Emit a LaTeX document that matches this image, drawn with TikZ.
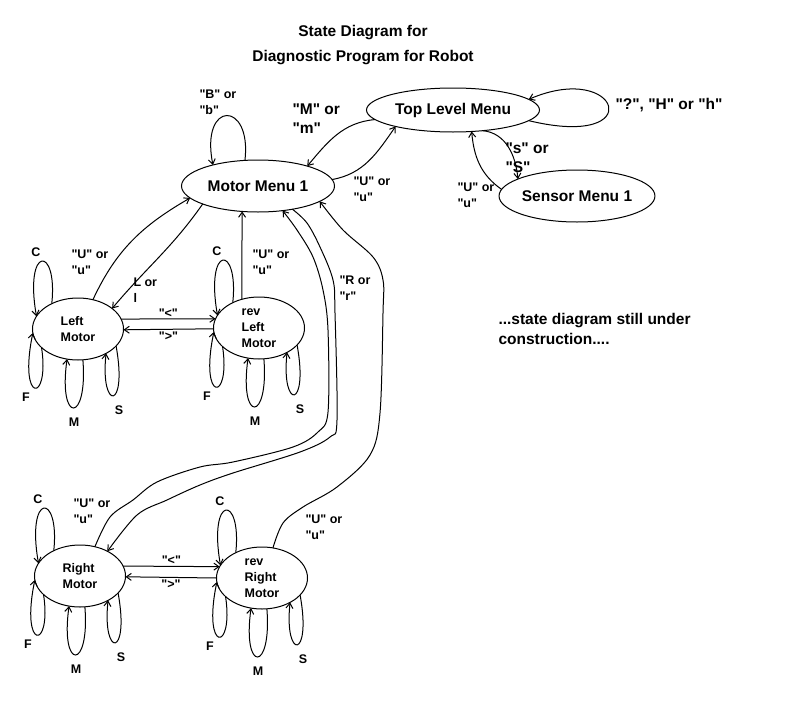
\documentclass[tikz,border=0pt]{standalone}
\usepackage{fontspec}
\setmainfont{Liberation Sans}[Ligatures=TeXOff]
\usetikzlibrary{arrows.meta, shapes.geometric, positioning}
\tikzset{
  >={Straight Barb[length=5pt,width=7pt]},
  % states
  menubox/.style={draw, ellipse, inner sep=0pt, outer sep=0pt, font=\bfseries\fontsize{15.5}{19}\selectfont},
  motorbox/.style={menubox, minimum width=91pt, minimum height=62pt, align=left, font=\bfseries\fontsize{12.5}{16}\selectfont},
  % labels
  lbl/.style={anchor=north west, inner sep=0pt, align=left, font=\bfseries\fontsize{12.5}{16}\selectfont},
  biglbl/.style={lbl, font=\bfseries\fontsize{15.5}{19.5}\selectfont},
  looplbl/.style={inner sep=0pt, font=\bfseries\fontsize{12.5}{15}\selectfont}
}

\begin{document}
\begin{tikzpicture}[x=1pt, y=-1pt, line width=1pt]
  \useasboundingbox (0,0) rectangle (808,704);
  % title
  \node[align=center, font=\bfseries\fontsize{15.5}{25}\selectfont] (title) at (363,45) {State Diagram for\\Diagnostic Program for Robot};

  % menus
  \node[menubox, minimum width=173pt, minimum height=44pt] (top) at (453,110) {Top Level Menu};
  \node[menubox, minimum width=153pt, minimum height=52pt] (mm) at (258,186) {Motor Menu 1};
  \node[menubox, minimum width=155pt, minimum height=52pt] (sm) at (577,196) {Sensor Menu 1};

  % motors
  \node[motorbox] (lm) at (78,329) {Left\\Motor};
  \node[motorbox] (rlm) at (259,328) {rev\\Left\\Motor};
  \node[motorbox] (rm) at (80,576) {Right\\Motor};
  \node[motorbox] (rrm) at (262,578) {rev\\Right\\Motor};

  % motor menu, top level, sensor
  \draw[->] (mm.117) .. controls (252,100) and (200,100) .. (mm.155);
  \node[lbl] (lb) at (199,89) {"B" or\\"b"};
  \draw[->] (top.187) to[out=185, in=50] (mm.22);
  \node[biglbl] (lmm) at (292,103) {"M" or\\"m"};
  \draw[->] (mm.5) to[out=10, in=235] (top.196);
  \node[lbl] (lu1) at (353,176) {"U" or\\"u"};
  \draw[->] (top.352) .. controls (650,150) and (620,60) .. (top.8);
  \node[biglbl] (lh) at (615,98) {"?", "H" or "h"};
  \draw[->] (top.325) to[out=-5, in=95] (sm.164);
  \node[biglbl] (ls) at (505,142) {"s" or\\"S"};
  \draw[->] (sm.175) to[out=145, in=275] (top.311);
  \node[lbl] (lu2) at (457,182) {"U" or\\"u"};

  % left motors
  \draw[->] (lm.63) to[out=65, in=210] (mm.190);
  \node[lbl] (lu3) at (71,249) {"U" or\\"u"};
  \draw[->] (mm.198) to[out=235, in=50] (lm.31);
  \node[lbl] (ll) at (133,277) {L or\\l};
  \draw[->] (lm.13) -- node[above=1pt, looplbl] (llt) {"<"} (rlm.168);
  \draw[->] (rlm.181) -- node[below=2pt, looplbl] (lgt) {">"} (lm.359);
  \draw[->] (rlm.121) -- (mm.238);
  \node[lbl] (lu4) at (252,249) {"U" or\\"u"};

  % right motors
  \draw[->] plot[smooth, tension=0.55] coordinates {(rm.63) (110,517) (133,500) (157,482) (200,467) (233,462) (293,447) (318,432) (328,412) (328,330) (323,290) (313,257) (297,230) (mm.315)};
  \draw[->] plot[smooth, tension=0.55] coordinates {(mm.326) (307,223) (320,247) (333,280) (335,313) (337,420) (330,437) (300,452) (233,473) (200,485) (167,500) (137,515) (rm.42)};
  \node[lbl] (lr) at (339,275) {"R or\\"r"};
  \node[lbl] (lu5) at (73,498) {"U" or\\"u"};
  \draw[->] (rm.13) -- node[above=1pt, looplbl] (rlt) {"<"} (rrm.165);
  \draw[->] (rrm.180) -- node[below=2pt, looplbl] (rgt) {">"} (rm.359);
  \draw[->] plot[smooth, tension=0.55] coordinates {(rrm.70) (283,523) (303,507) (337,487) (370,455) (380,413) (383,313) (383,280) (373,257) (343,230) (mm.346)};
  \node[lbl] (lu6) at (305,514) {"U" or\\"u"};

  % self loops C, F, M, S
  \foreach \n in {lm,rlm,rm,rrm}{
    \begin{scope}[shift={(\n.center)}]
      \draw[->] (\n.136) .. controls (-20,-84) and (-54,-84) .. (\n.163);
      \draw[->] (\n.207) .. controls (-28,75) and (-60,75) .. (\n.185);
      \draw[->] (\n.279) .. controls (10,95) and (-20,95) .. (\n.250);
      \draw[->] (\n.336) .. controls (50,82) and (22,82) .. (\n.319);
      \node[looplbl] (\n-c) at (-42,-77) {C};
      \node[looplbl] (\n-f) at (-52,68) {F};
      \node[looplbl] (\n-m) at (-4,93) {M};
      \node[looplbl] (\n-s) at (41,81) {S};
    \end{scope}
  }

  % note
  \node[biglbl] (note) at (498,313) {...state diagram still under\\construction....};
\end{tikzpicture}
\end{document}
